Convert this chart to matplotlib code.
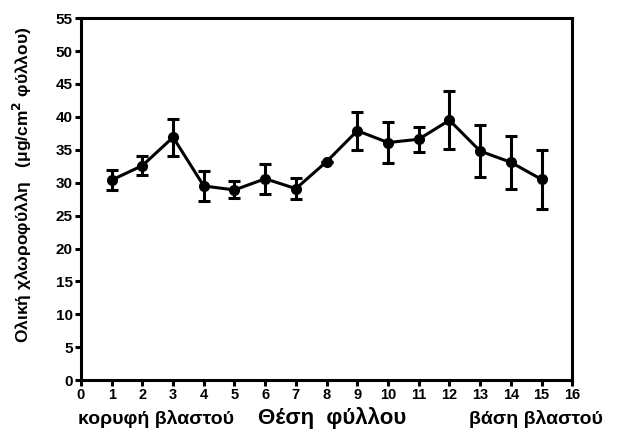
import numpy as np
import matplotlib
matplotlib.use("Agg")
import matplotlib.pyplot as plt

# ── Data ──────────────────────────────────────────────────────────────────────
leaf_pos = [1, 2, 3, 4, 5, 6, 7, 8, 9, 10, 11, 12, 13, 14, 15]
chl_mean = [30.4, 32.6, 36.9, 29.5, 28.9, 30.6, 29.1, 33.2, 37.9, 36.1, 36.6, 39.5, 34.8, 33.1, 30.5]
chl_err  = [1.5, 1.5, 2.8, 2.3, 1.3, 2.3, 1.6, 0.0, 2.9, 3.1, 1.9, 4.4, 4.0, 4.0, 4.5]

x_ticks = list(range(0, 17))
y_ticks = list(range(0, 56, 5))

# ── Style ─────────────────────────────────────────────────────────────────────
plt.rcParams.update({
    'font.family': ['Liberation Sans', 'DejaVu Sans'],
    'font.weight': 'bold',
    'axes.linewidth': 2.2,
})

fig = plt.figure(figsize=(6.18, 4.32), dpi=100)
ax = fig.add_axes([0.131, 0.120, 0.795, 0.838])

ax.errorbar(leaf_pos, chl_mean, yerr=chl_err, color='black', lw=2.2,
            marker='o', ms=7, capsize=4, capthick=2.2, elinewidth=2.2)

ax.set_xlim(0, 16)
ax.set_ylim(0, 55)
ax.set_xticks(x_ticks)
ax.set_yticks(y_ticks)
ax.tick_params(direction='out', length=4, width=2.2, pad=2)
ax.tick_params(axis='y', labelsize=11)
ax.tick_params(axis='x', labelsize=10.5)
for lab in ax.get_xticklabels() + ax.get_yticklabels():
    lab.set_fontweight('bold')

ax.set_ylabel('Ολική χλωροφύλλη   (μg/cm$^\\mathbf{2}$ φύλλου)',
              fontsize=12.5, fontweight='bold', va='center')
ax.yaxis.set_label_coords(-0.12, 0.54)

# x-axis labels: apex / position / base
fig.text(0.126, 0.018, 'κορυφή βλαστού', fontsize=14,
         fontweight='bold', ha='left', va='baseline')
fig.text(0.537, 0.018, 'Θέση  φύλλου', fontsize=16,
         fontweight='bold', ha='center', va='baseline')
fig.text(0.976, 0.018, 'βάση βλαστού', fontsize=14,
         fontweight='bold', ha='right', va='baseline')

fig.savefig('out.png', dpi=100)
plt.close()
